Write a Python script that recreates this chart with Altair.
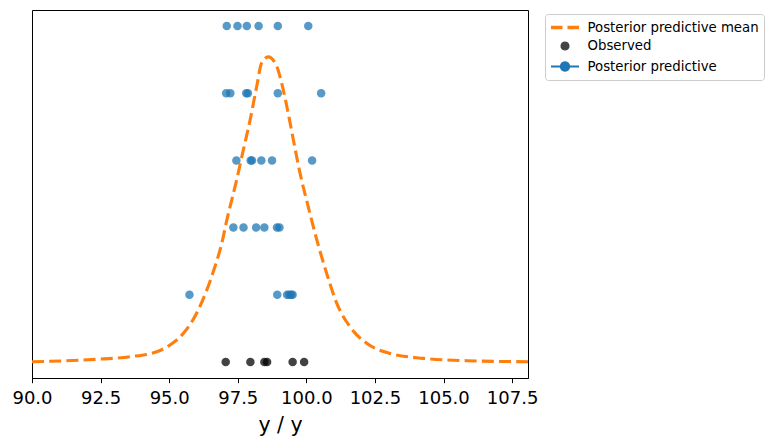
import math
import altair as alt
import pandas as pd

# ---------------- data ----------------
x_ticks = [90.0, 92.5, 95.0, 97.5, 100.0, 102.5, 105.0, 107.5]

observed = [97.06, 97.96, 98.47, 98.57, 99.50, 99.92]
pp_row1 = [95.74, 98.94, 99.30, 99.38, 99.45, 99.50]
pp_row2 = [97.34, 97.71, 98.17, 98.47, 98.93, 99.02]
pp_row3 = [97.45, 97.97, 98.02, 98.36, 98.75, 100.21]
pp_row4 = [97.08, 97.23, 97.81, 97.87, 98.96, 100.54]
pp_row5 = [97.10, 97.49, 97.83, 98.26, 98.96, 100.07]

curve_x = [90.0, 92.36, 93.57, 94.55, 95.03, 95.52, 96.00, 96.37, 96.67, 96.92,
           97.10, 97.28, 97.46, 97.70, 97.95, 98.19, 98.37, 98.61, 98.92, 99.10,
           99.34, 99.53, 99.77, 100.07, 100.38, 100.74, 101.11, 101.59, 102.20,
           103.05, 104.27, 105.85, 108.08]
curve_y = [0.004, 0.04, 0.079, 0.153, 0.253, 0.427, 0.725, 1.07, 1.42, 1.77,
           2.11, 2.41, 2.71, 3.15, 3.60, 4.10, 4.45, 4.54, 4.40, 4.15,
           3.70, 3.30, 2.81, 2.31, 1.82, 1.32, 0.873, 0.525, 0.278,
           0.128, 0.054, 0.019, 0.004]

series_names = ["Posterior predictive mean", "Observed", "Posterior predictive"]
legend_fills = ["transparent", "#444444", "#1f77b4"]
legend_strokes = ["#ff7f0e", "transparent", "#1f77b4"]

# ---------------- tables ----------------
curve_df = pd.DataFrame({"x": curve_x, "y": curve_y})
obs_df = pd.DataFrame({"x": observed, "y": 0})
pp_rows = [pp_row1, pp_row2, pp_row3, pp_row4, pp_row5]
pp_df = pd.concat(
    [pd.DataFrame({"x": r, "y": i + 1}) for i, r in enumerate(pp_rows)],
    ignore_index=True,
)
legend_df = pd.DataFrame({"x": [None] * 3, "y": [None] * 3, "series": series_names})

FONT = "DejaVu Sans"


def circle_path(r, n=24):
    pts = [(r * math.cos(2 * math.pi * k / n), r * math.sin(2 * math.pi * k / n)) for k in range(n)]
    return "M" + "L".join(f"{px:.3f},{py:.3f}" for px, py in pts) + "Z"


dash_line = "".join(
    f"M-1.87,{dy}L-0.33,{dy}M0.33,{dy}L1.87,{dy}" for dy in (-0.09, 0.0, 0.09)
)
circle_obs = circle_path(0.6)
line_dot = "M-1.87,0L-0.6,0M0.6,0L1.87,0" + circle_path(0.56)
legend_shapes = [dash_line, circle_obs, line_dot]

legend = alt.Legend(
    title=None,
    orient="none",
    legendX=513,
    legendY=4,
    padding=5,
    symbolSize=225,
    symbolOffset=6.5,
    symbolStrokeWidth=2,
    labelOffset=14,
    labelLimit=300,
    rowPadding=3.5,
    labelFont=FONT,
    labelFontSize=13.3,
    labelColor="#000000",
    strokeColor="#cccccc",
    fillColor="#ffffff",
    cornerRadius=3,
)

x_enc = alt.X(
    "x:Q",
    scale=alt.Scale(domain=[90.0, 108.08], nice=False, zero=False),
    axis=alt.Axis(
        values=x_ticks,
        format=".1f",
        title="y / y",
        grid=False,
        labelFont=FONT,
        labelFontSize=18,
        labelColor="#000000",
        titleFont=FONT,
        titleFontSize=20.5,
        titleFontWeight="normal",
        titleColor="#000000",
        tickSize=4.7,
        tickWidth=1,
        tickColor="#000000",
        domainColor="#000000",
        domainWidth=1,
        labelPadding=7,
        titlePadding=8,
        labelFlush=False,
        labelOverlap=False,
    ),
)
y_enc = alt.Y("y:Q", scale=alt.Scale(domain=[-0.238, 5.238], nice=False, zero=False), axis=None)

legend_layer = alt.Chart(legend_df).mark_point(filled=True, size=225, opacity=1, clip=True).encode(
    x=x_enc,
    y=y_enc,
    fill=alt.Fill("series:N", scale=alt.Scale(domain=series_names, range=legend_fills), legend=legend),
    stroke=alt.Stroke("series:N", scale=alt.Scale(domain=series_names, range=legend_strokes), legend=legend),
    shape=alt.Shape("series:N", scale=alt.Scale(domain=series_names, range=legend_shapes), legend=legend),
)

curve = alt.Chart(curve_df).mark_line(
    color="#ff7f0e", strokeWidth=3.1, strokeDash=[12, 5.2], interpolate="monotone", clip=True
).encode(x=x_enc, y=y_enc)

obs_pts = alt.Chart(obs_df).mark_circle(size=72, opacity=0.74, color="#000000").encode(x=x_enc, y=y_enc)

pp_pts = alt.Chart(pp_df).mark_circle(size=72, opacity=0.75, color="#1f77b4").encode(x=x_enc, y=y_enc)

chart = (
    alt.layer(legend_layer, curve, obs_pts, pp_pts)
    .properties(
        width=496,
        height=368,
        background="#ffffff",
        autosize=alt.AutoSizeParams(type="none"),
        padding={"left": 24, "top": 2, "right": 242, "bottom": 65},
    )
    .configure_view(stroke="#000000", strokeWidth=1)
)

chart.save("out.html", embed_options={"renderer": "svg", "actions": False})
